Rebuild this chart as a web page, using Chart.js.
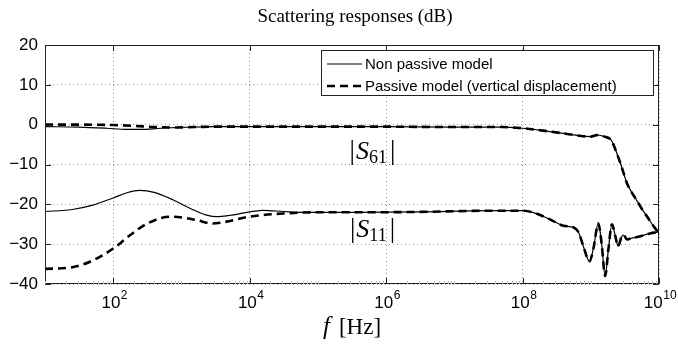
<!DOCTYPE html>
<html><head><meta charset="utf-8">
<script src="https://cdn.jsdelivr.net/npm/chart.js@4/dist/chart.umd.min.js"></script>
<style>html,body{margin:0;padding:0;background:#fff}#wrap{width:678px;height:349px;position:relative}</style>
</head><body><div id="wrap"><canvas id="c" width="678" height="349"></canvas></div>
<script>
// ---- data (x as log10 of frequency in Hz, y in dB) ----
const titleText = "Scattering responses (dB)";
const seriesNames = ["Non passive model", "Passive model (vertical displacement)"];
const yTickValues = [-40, -30, -20, -10, 0, 10, 20];
const xTickExponents = [2, 4, 6, 8, 10];

const s61NonPassiveLogF = [1.0, 1.5, 1.9, 2.2, 2.4, 2.7, 3.0, 3.5, 4.0, 5.0, 6.0, 7.0, 7.7, 8.0, 8.3, 8.6, 8.8, 9.0, 9.1, 9.2, 9.3, 9.38, 9.45, 9.53, 9.6, 9.68, 9.75, 9.83, 9.9, 10.0];
const s61NonPassiveDb   = [-0.5, -0.6, -0.9, -1.2, -1.2, -0.9, -0.7, -0.5, -0.5, -0.5, -0.5, -0.6, -0.6, -0.9, -1.5, -2.2, -2.7, -3.0, -2.6, -3.0, -3.9, -7.1, -10.5, -14.7, -17.0, -19.2, -21.2, -23.2, -25.0, -27.3];

const s61PassiveLogF = [1.0, 1.5, 2.0, 2.3, 2.6, 2.9, 3.2, 3.5, 4.0, 5.0, 6.0, 7.0, 7.7, 8.0, 8.3, 8.6, 8.8, 9.0, 9.1, 9.2, 9.3, 9.38, 9.45, 9.53, 9.6, 9.68, 9.75, 9.83, 9.9, 10.0];
const s61PassiveDb   = [0.0, 0.0, -0.1, -0.3, -0.6, -0.7, -0.6, -0.5, -0.5, -0.5, -0.5, -0.6, -0.6, -0.9, -1.5, -2.2, -2.7, -3.0, -2.6, -3.0, -3.9, -7.1, -10.5, -14.7, -17.0, -19.2, -21.2, -23.2, -25.0, -27.3];

const s11NonPassiveLogF = [1.0, 1.4, 1.7, 2.0, 2.2, 2.39, 2.6, 2.88, 3.1, 3.37, 3.52, 3.7, 4.0, 4.2, 4.5, 4.74, 5.5, 6.5, 7.5, 8.0, 8.15, 8.3, 8.45, 8.6, 8.75, 8.82, 8.9, 8.98, 9.04, 9.11, 9.16, 9.21, 9.26, 9.31, 9.36, 9.4, 9.45, 9.48, 9.53, 9.6, 9.68, 9.87, 10.0];
const s11NonPassiveDb   = [-21.8, -21.3, -20.2, -18.4, -17.1, -16.5, -17.0, -18.9, -20.8, -22.7, -23.1, -22.8, -21.9, -21.5, -21.8, -22.0, -22.0, -21.9, -21.6, -21.6, -22.0, -23.0, -24.2, -25.4, -25.8, -27.0, -31.0, -34.3, -31.0, -24.8, -30.0, -38.0, -31.0, -25.0, -28.0, -30.5, -28.2, -27.7, -28.8, -28.5, -28.2, -27.3, -26.9];

const s11PassiveLogF = [1.0, 1.4, 1.66, 2.0, 2.25, 2.5, 2.83, 3.0, 3.23, 3.45, 3.61, 4.0, 4.49, 5.0, 5.5, 6.5, 7.5, 8.0, 8.15, 8.3, 8.45, 8.6, 8.75, 8.82, 8.9, 8.98, 9.04, 9.11, 9.16, 9.21, 9.26, 9.31, 9.36, 9.4, 9.45, 9.48, 9.53, 9.6, 9.68, 9.87, 10.0];
const s11PassiveDb   = [-36.2, -35.8, -34.4, -31.1, -27.7, -24.8, -23.1, -23.3, -24.0, -24.8, -24.5, -23.1, -22.3, -22.0, -22.0, -21.9, -21.6, -21.6, -22.0, -23.0, -24.2, -25.4, -25.8, -27.0, -31.0, -34.3, -31.0, -24.8, -30.0, -38.0, -31.0, -25.0, -28.0, -30.5, -28.2, -27.7, -28.8, -28.5, -28.2, -27.3, -26.9];

const annotations = [
  { sub: "61", logF: 5.8, db: -6.4 },
  { sub: "11", logF: 5.8, db: -26.0 }
];

// ---- helpers ----
function pts(logF, db) { return logF.map((e, i) => ({ x: Math.pow(10, e), y: db[i] })); }
const SOLID = { borderColor: '#000', borderWidth: 1.2, borderDash: [] };
const DASH = { borderColor: '#000', borderWidth: 2.6, borderDash: [8, 5] };

const overlay = {
  id: 'overlay',
  afterDraw(chart) {
    const ctx = chart.ctx, a = chart.chartArea, xs = chart.scales.x, ys = chart.scales.y;
    ctx.save();
    // frame
    ctx.strokeStyle = '#222'; ctx.lineWidth = 1; ctx.setLineDash([]);
    ctx.strokeRect(a.left + 0.5, a.top + 0.5, a.right - a.left - 1, a.bottom - a.top - 1);
    // minor x ticks
    ctx.strokeStyle = '#bbb';
    for (let e = 1; e < 10; e++) for (let m = 1; m <= 9; m++) {
      const px = Math.round(xs.getPixelForValue(m * Math.pow(10, e))) + 0.5;
      ctx.beginPath(); ctx.moveTo(px, a.bottom); ctx.lineTo(px, a.bottom - 3); ctx.stroke();
    }
    // major ticks
    ctx.strokeStyle = '#222';
    xTickExponents.forEach(e => {
      const px = Math.round(xs.getPixelForValue(Math.pow(10, e))) + 0.5;
      ctx.beginPath(); ctx.moveTo(px, a.bottom); ctx.lineTo(px, a.bottom - 6);
      ctx.moveTo(px, a.top); ctx.lineTo(px, a.top + 6); ctx.stroke();
    });
    yTickValues.forEach(v => {
      const py = Math.round(ys.getPixelForValue(v)) + 0.5;
      ctx.beginPath(); ctx.moveTo(a.left, py); ctx.lineTo(a.left + 6, py);
      ctx.moveTo(a.right, py); ctx.lineTo(a.right - 6, py); ctx.stroke();
    });
    // x tick labels 10^n
    ctx.fillStyle = '#000'; ctx.textBaseline = 'alphabetic';
    xTickExponents.forEach(e => {
      const px = xs.getPixelForValue(Math.pow(10, e));
      ctx.font = '17px "Liberation Sans", Arial, sans-serif';
      const wb = ctx.measureText('10').width;
      ctx.font = '12px "Liberation Sans", Arial, sans-serif';
      const we = ctx.measureText(String(e)).width;
      const x0 = px - (wb + we) / 2 + 1;
      ctx.textAlign = 'left';
      ctx.font = '17px "Liberation Sans", Arial, sans-serif';
      ctx.fillText('10', x0, a.bottom + 24);
      ctx.font = '12px "Liberation Sans", Arial, sans-serif';
      ctx.fillText(String(e), x0 + wb + 0.5, a.bottom + 15);
    });
    // x axis title: f [Hz]
    {
      const cx = (a.left + a.right) / 2, by = a.bottom + 50;
      ctx.font = 'italic 25px "Liberation Serif", serif';
      const wf = ctx.measureText('f').width;
      ctx.font = '23px "Liberation Serif", serif';
      const wr = ctx.measureText('[Hz]').width;
      const gap = 9;
      const x0 = cx - (wf + gap + wr) / 2;
      ctx.textAlign = 'left';
      ctx.font = 'italic 25px "Liberation Serif", serif';
      ctx.fillText('f', x0, by);
      ctx.font = '23px "Liberation Serif", serif';
      ctx.fillText('[Hz]', x0 + wf + gap, by);
    }
    // annotations |S_xx|
    annotations.forEach(an => {
      const cx = xs.getPixelForValue(Math.pow(10, an.logF));
      const cy = ys.getPixelForValue(an.db);
      const big = '27px "Liberation Serif", serif', ital = 'italic 26px "Liberation Serif", serif', sm = '18px "Liberation Serif", serif';
      ctx.font = big; const wbar = ctx.measureText('|').width;
      ctx.font = ital; const ws = ctx.measureText('S').width;
      ctx.font = sm; const wsub = ctx.measureText(an.sub).width;
      const total = wbar + ws + wsub + wbar + 4;
      let x = cx - total / 2; const base = cy + 9;
      ctx.textAlign = 'left';
      ctx.font = big; ctx.fillText('|', x, base); x += wbar + 1;
      ctx.font = ital; ctx.fillText('S', x, base); x += ws;
      ctx.font = sm; ctx.fillText(an.sub, x, base + 4); x += wsub + 3;
      ctx.font = big; ctx.fillText('|', x, base);
    });
    // legend
    {
      const bw = 332, bh = 45;
      const bx = a.right - 6 - bw, by = a.top + 5;
      ctx.fillStyle = '#fff'; ctx.fillRect(bx, by, bw, bh);
      ctx.strokeStyle = '#222'; ctx.lineWidth = 1; ctx.setLineDash([]);
      ctx.strokeRect(bx + 0.5, by + 0.5, bw, bh);
      const rows = [by + 14, by + 36];
      const styles = [SOLID, DASH];
      seriesNames.forEach((name, i) => {
        ctx.strokeStyle = '#000'; ctx.lineWidth = styles[i].borderWidth;
        ctx.setLineDash(styles[i].borderDash);
        ctx.beginPath(); ctx.moveTo(bx + 6, rows[i]); ctx.lineTo(bx + 41, rows[i]); ctx.stroke();
        ctx.setLineDash([]);
        ctx.fillStyle = '#000'; ctx.font = '15px "Liberation Sans", Arial, sans-serif';
        ctx.textAlign = 'left'; ctx.textBaseline = 'middle';
        ctx.fillText(name, bx + 44, rows[i] + 1);
      });
    }
    // title
    ctx.fillStyle = '#000'; ctx.textAlign = 'center'; ctx.textBaseline = 'middle';
    ctx.font = '19px "Liberation Serif", serif';
    ctx.fillText(titleText, (a.left + a.right) / 2 + 3, 17);
    ctx.restore();
  }
};

new Chart(document.getElementById('c'), {
  type: 'line',
  data: {
    datasets: [
      Object.assign({ label: 'S61 non passive', data: pts(s61NonPassiveLogF, s61NonPassiveDb) }, SOLID),
      Object.assign({ label: 'S61 passive', data: pts(s61PassiveLogF, s61PassiveDb) }, DASH),
      Object.assign({ label: 'S11 non passive', data: pts(s11NonPassiveLogF, s11NonPassiveDb) }, SOLID),
      Object.assign({ label: 'S11 passive', data: pts(s11PassiveLogF, s11PassiveDb) }, DASH)
    ].map(d => Object.assign(d, { pointRadius: 0, fill: false, cubicInterpolationMode: 'monotone' }))
  },
  options: {
    responsive: false, animation: false, devicePixelRatio: 1,
    layout: { padding: { top: 45, right: 19, bottom: 0, left: 0 } },
    plugins: { legend: { display: false }, title: { display: false }, tooltip: { enabled: false } },
    scales: {
      x: {
        type: 'logarithmic', min: 10, max: 1e10,
        afterBuildTicks(s) { s.ticks = xTickExponents.map(e => ({ value: Math.pow(10, e) })); },
        afterFit(s) { s.height = 65; },
        ticks: { display: false },
        grid: { color: '#999', lineWidth: 1, drawTicks: false },
        border: { display: false, dash: [1, 3] }
      },
      y: {
        min: -40, max: 20,
        afterBuildTicks(s) { s.ticks = yTickValues.map(v => ({ value: v })); },
        afterFit(s) { s.width = 45; },
        ticks: {
          color: '#000', padding: 7,
          font: { family: '"Liberation Sans", Arial, sans-serif', size: 17 },
          callback: v => (v < 0 ? '\u2212' + Math.abs(v) : String(v))
        },
        grid: { color: '#999', lineWidth: 1, drawTicks: false },
        border: { display: false, dash: [1, 3] }
      }
    }
  },
  plugins: [overlay]
});
</script></body></html>
